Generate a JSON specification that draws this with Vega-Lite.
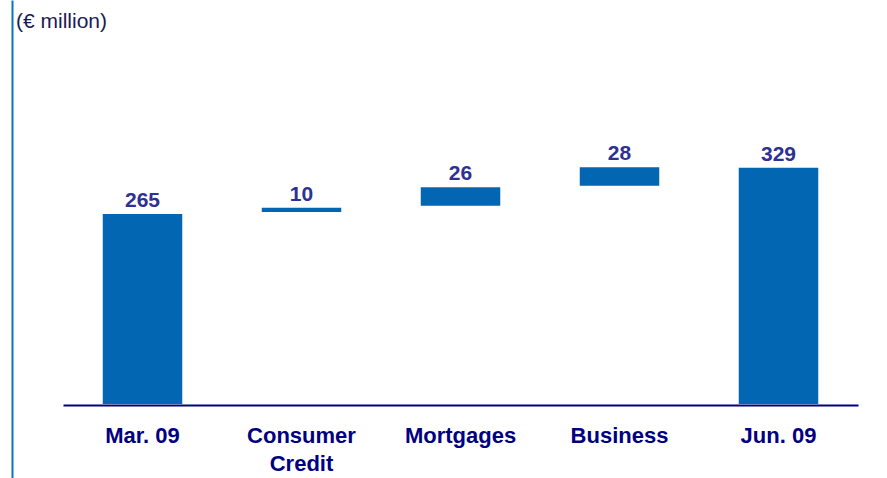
{
  "$schema": "https://vega.github.io/schema/vega-lite/v6.json",
  "width": 795,
  "height": 478,
  "autosize": {"type": "none"},
  "padding": {"left": 63, "top": 0, "right": 29, "bottom": 0},
  "background": "white",
  "config": {"view": {"stroke": null}, "font": "Liberation Sans"},
  "data": {
    "values": [
      {"category": "Mar. 09", "start": 0, "end": 265, "label": "265"},
      {"category": "Consumer Credit", "start": 267.7, "end": 273.7, "label": "10"},
      {"category": "Mortgages", "start": 276.4, "end": 302, "label": "26"},
      {"category": "Business", "start": 304.3, "end": 330, "label": "28"},
      {"category": "Jun. 09", "start": 0, "end": 329.5, "label": "329"}
    ]
  },
  "encoding": {
    "x": {
      "field": "category",
      "type": "nominal",
      "sort": null,
      "scale": {"paddingInner": 0.5, "paddingOuter": 0.25},
      "axis": {
        "title": null,
        "orient": "bottom",
        "offset": -73,
        "domainColor": "#000080",
        "domainWidth": 2,
        "ticks": false,
        "tickSize": 0,
        "labelAngle": 0,
        "labelFont": "Liberation Sans",
        "labelFontSize": 22,
        "labelFontWeight": "bold",
        "labelColor": "#000080",
        "labelPadding": 20,
        "labelLineHeight": 28,
        "labelLimit": 0,
        "labelOverlap": false,
        "labelExpr": "datum.label == 'Consumer Credit' ? ['Consumer', 'Credit'] : datum.label"
      }
    },
    "y": {
      "field": "end",
      "type": "quantitative",
      "scale": {"domain": [-103.2, 563.2], "nice": false, "zero": false},
      "axis": {
        "title": "(€ million)",
        "titleAngle": 0,
        "titleAlign": "left",
        "titleBaseline": "alphabetic",
        "titleX": 3.5,
        "titleY": 27,
        "titleFont": "Liberation Sans",
        "titleFontSize": 21,
        "titleFontWeight": "normal",
        "titleColor": "#1b1b55",
        "labels": false,
        "ticks": false,
        "grid": false,
        "domainColor": "#0b72c2",
        "domainWidth": 2,
        "offset": 51
      }
    }
  },
  "layer": [
    {
      "mark": {"type": "bar", "color": "#0366B3"},
      "encoding": {"y2": {"field": "start"}}
    },
    {
      "mark": {
        "type": "text",
        "dy": -7,
        "baseline": "alphabetic",
        "font": "Liberation Sans",
        "fontSize": 21,
        "fontWeight": "bold",
        "color": "#2E3192"
      },
      "encoding": {"text": {"field": "label"}}
    }
  ]
}
